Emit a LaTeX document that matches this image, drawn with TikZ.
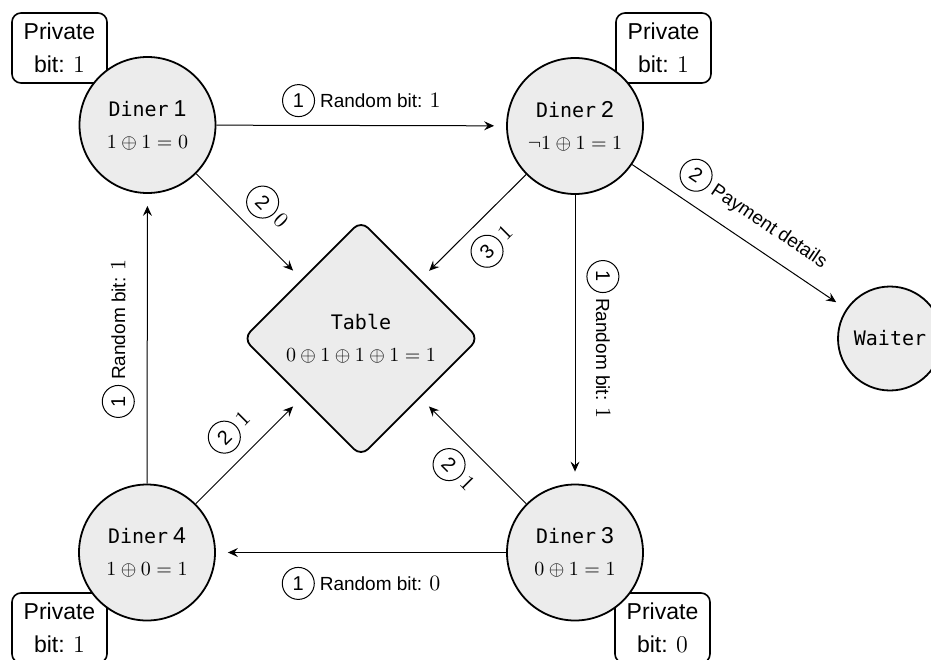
\documentclass[tikz,border=0pt]{standalone}
\usepackage{fontspec}
\setsansfont{Liberation Sans}
\setmonofont{DejaVu Sans Mono}
\usetikzlibrary{shapes.geometric,arrows.meta}
\newcommand\cnum[1]{\tikz[baseline=(cn.base)]\node[draw,circle,line width=0.5pt,inner sep=0pt,minimum size=16pt,font=\sffamily\fontsize{10}{12}\selectfont,anchor=base](cn){#1};}
\newcommand\mdig[1]{{\fontsize{10.8}{12}\selectfont$#1$}}
\newcommand\pdig[1]{{\fontsize{13}{16.5}\selectfont$#1$}}
\newcommand\dinertitle[1]{{\ttfamily\fontsize{10}{16}\selectfont Diner}\kern2.5pt{\sffamily\fontsize{11.5}{16}\selectfont #1}}
\begin{document}
\begin{tikzpicture}[x=0.5pt,y=-0.5pt,
  diner/.style={circle,draw,line width=0.9pt,fill=gray!15,minimum size=68pt,inner sep=0pt,align=center,font=\fontsize{10}{16}\selectfont},
  tablebox/.style={diamond,draw,line width=0.9pt,fill=gray!15,rounded corners=5pt,aspect=1,minimum width=118pt,minimum height=118pt,inner sep=0pt,align=center,font=\fontsize{10}{16}\selectfont},
  privbox/.style={draw,line width=0.8pt,rounded corners=4.5pt,fill=white,minimum width=47.5pt,minimum height=35pt,inner sep=0pt,align=center,font=\sffamily\fontsize{11.5}{16.5}\selectfont},
  flow/.style={-{Stealth[length=5pt,width=4.5pt,inset=1.8pt]},line width=0.5pt,shorten >=6pt},
  lab/.style={font=\sffamily\fontsize{9.5}{11}\selectfont,inner sep=0pt}]
\useasboundingbox (0,0) rectangle (931,659);
% private bit boxes
\node[privbox] (p1) at (59.5,48) {Private\\bit: \pdig{1}};
\node[privbox] (p2) at (663.5,48) {Private\\bit: \pdig{1}};
\node[privbox] (p4) at (59.5,628) {Private\\bit: \pdig{1}};
\node[privbox] (p3) at (662.5,628) {Private\\bit: \pdig{0}};
% main nodes
\node[diner] (d1) at (147.5,125) {\dinertitle{1}\\$1\oplus1=0$};
\node[diner] (d2) at (575,126) {\dinertitle{2}\\$\neg1\oplus1=1$};
\node[diner] (d3) at (575,552.5) {\dinertitle{3}\\$0\oplus1=1$};
\node[diner] (d4) at (147,552.5) {\dinertitle{4}\\$1\oplus0=1$};
\node[tablebox] (tab) at (361,338.5) {{\ttfamily\fontsize{10}{16}\selectfont Table}\\$0\oplus1\oplus1\oplus1=1$};
\node[diner,minimum size=52pt,font=\ttfamily\fontsize{10}{12}\selectfont] (w) at (890,338.5) {Waiter};
% connectors
\draw[flow] (d1) -- node[lab,above=4pt]{\cnum{1}\kern2.5pt Random bit: \mdig{1}} (d2);
\draw[flow] (d2) -- node[lab,sloped,above=5.5pt]{\cnum{1}\kern2.5pt Random bit: \mdig{1}} (d3);
\draw[flow] (d3) -- node[lab,below=7pt]{\cnum{1}\kern2.5pt Random bit: \mdig{0}} (d4);
\draw[flow] (d4) -- node[lab,sloped,above=6pt]{\cnum{1}\kern2.5pt Random bit: \mdig{1}} (d1);
\draw[flow] (d1) -- node[lab,sloped,above=5pt]{\cnum{2}\kern2pt\mdig{0}} (tab);
\draw[flow] (d2) -- node[lab,sloped,below=5pt]{\cnum{3}\kern2pt\mdig{1}} (tab);
\draw[flow] (d4) -- node[lab,sloped,above=5pt]{\cnum{2}\kern2pt\mdig{1}} (tab);
\draw[flow] (d3) -- node[lab,sloped,below=5pt]{\cnum{2}\kern2pt\mdig{1}} (tab);
\draw[flow] (d2) -- node[lab,sloped,above=5pt]{\cnum{2}\kern2.5pt Payment details} (w);
\end{tikzpicture}
\end{document}
